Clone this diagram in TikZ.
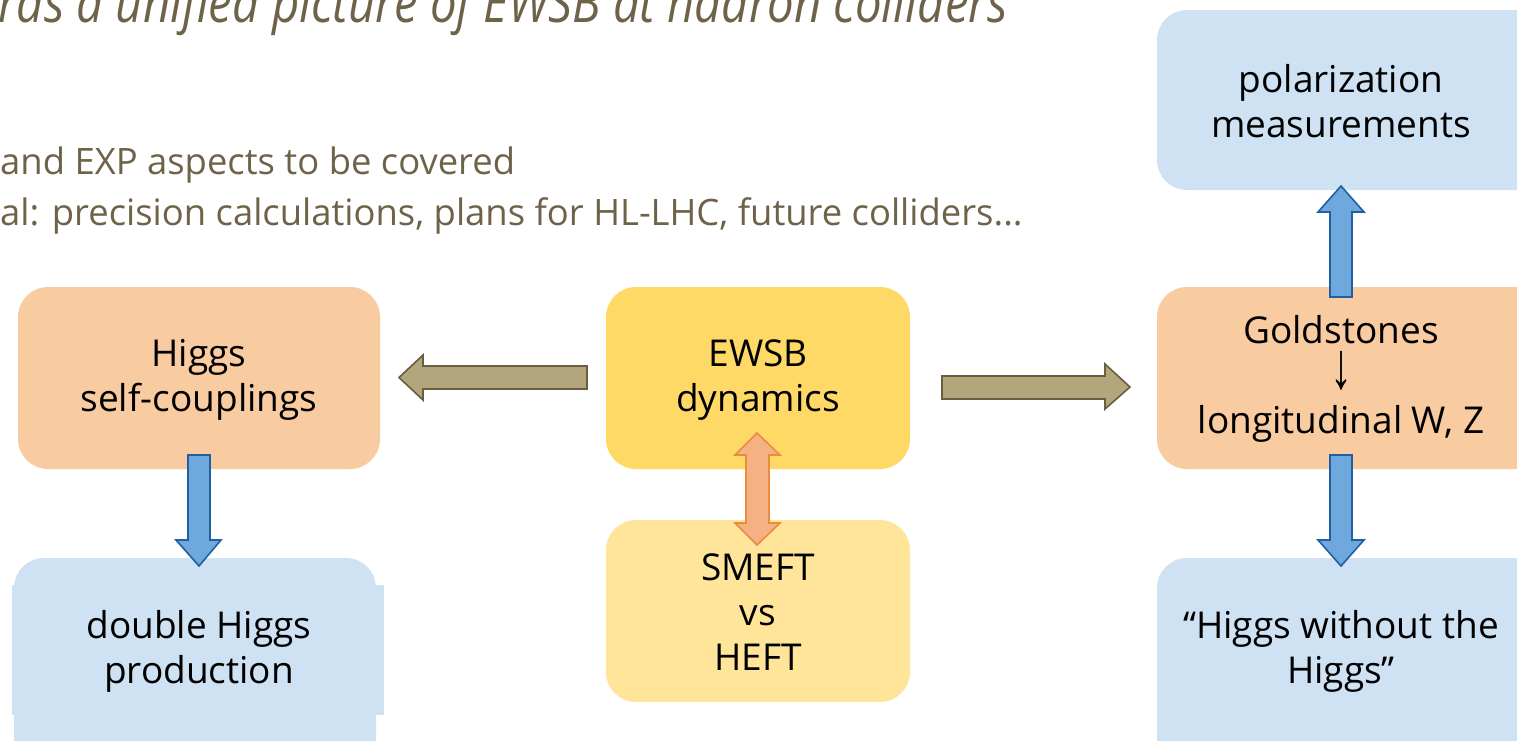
\documentclass[tikz,border=0pt]{standalone}
\usepackage{fontspec}
\usepackage{graphicx}
\setmainfont{Open Sans}
\newfontfamily\arrowfont{Liberation Sans}
\definecolor{orangebox}{HTML}{F8CBA0}
\definecolor{yellowbox}{HTML}{FFD966}
\definecolor{lightyellow}{HTML}{FFE599}
\definecolor{bluebox}{HTML}{CFE2F3}
\definecolor{tanfill}{HTML}{B3A67C}
\definecolor{tanline}{HTML}{6B5E40}
\definecolor{orfill}{HTML}{F4B183}
\definecolor{orline}{HTML}{EC8B3C}
\definecolor{blfill}{HTML}{6FA8DC}
\definecolor{blline}{HTML}{2160A0}
\definecolor{headtext}{HTML}{6E6248}
\tikzset{
  box/.style={inner sep=0pt, align=center,
    font=\fontsize{37}{45}\selectfont, text=black},
  tanarrow/.style={fill=tanfill, draw=tanline, line width=1.6pt, line join=miter},
  orarrow/.style={fill=orfill, draw=orline, line width=1.6pt},
  blarrow/.style={fill=blfill, draw=blline, line width=1.6pt},
  headline/.style={anchor=base west, text=headtext, inner sep=0pt,
    font=\fontsize{36.4}{40}\selectfont},
}
\begin{document}
\begin{tikzpicture}[x=1pt,y=-1pt]
\useasboundingbox (0,0) rectangle (1517,740);
% header texts
\node[anchor=base east, text=headtext, inner sep=0pt,
  font=\fontsize{55}{60}\selectfont\itshape\addfontfeature{FakeStretch=0.86}] (title) at (1008,22) {Towards a unified picture of EWSB at hadron colliders};
\node[headline] (l1) at (0,174) {and EXP aspects to be covered};
\node[headline] (l2) at (0,225) {al: precision calculations, plans for HL-LHC, future colliders...};
% boxes
\fill[orangebox, rounded corners=30pt] (18,287) rectangle (380,469);
\node[box] (higgs) at (199,380) {Higgs\\self-couplings};
\fill[yellowbox, rounded corners=30pt] (606,287) rectangle (910,469);
\node[box] (ewsb) at (758,380) {EWSB\\dynamics};
\fill[lightyellow, rounded corners=30pt] (606,520) rectangle (910,702);
\node[box] (smeft) at (758,612) {SMEFT\\vs\\HEFT};
\fill[bluebox, rounded corners=30pt] (14,558) rectangle (376,770);
\fill[bluebox] (12,585) rectangle (384,715);
\node[box] (dh) at (199,651) {double Higgs\\production};
\fill[orangebox, rounded corners=30pt] (1157,287) rectangle (1547,469);
\node[box] (gold) at (1341,379) {Goldstones\\{\arrowfont\fontsize{44}{45}\selectfont\scalebox{1}[1.5]{↓}}\\longitudinal W, Z};
\fill[bluebox, rounded corners=30pt] (1157,10) rectangle (1547,190);
\node[box] (pol) at (1341,101) {polarization\\measurements};
\fill[bluebox, rounded corners=30pt] (1157,558) rectangle (1547,770);
\node[box] (hwh) at (1341,651) {“Higgs without the\\Higgs”};
% block arrows
\draw[tanarrow] (587,366) -- (423,366) -- (423,355) -- (399,377.5) -- (423,400) -- (423,389) -- (587,389) -- cycle;
\draw[tanarrow] (942,376) -- (1105,376) -- (1105,364) -- (1130,387) -- (1105,409) -- (1105,399) -- (942,399) -- cycle;
\draw[orarrow] (757,433) -- (780,455) -- (769,455) -- (769,523) -- (780,523) -- (757,545) -- (735,523) -- (746,523) -- (746,455) -- (735,455) -- cycle;
\draw[blarrow] (1341,186) -- (1364,212) -- (1352,212) -- (1352,297) -- (1330,297) -- (1330,212) -- (1318,212) -- cycle;
\draw[blarrow] (188,455) -- (210,455) -- (210,540) -- (221,540) -- (199,566) -- (176,540) -- (188,540) -- cycle;
\draw[blarrow] (1330,455) -- (1352,455) -- (1352,540) -- (1364,540) -- (1341,566) -- (1318,540) -- (1330,540) -- cycle;
\end{tikzpicture}
\end{document}
